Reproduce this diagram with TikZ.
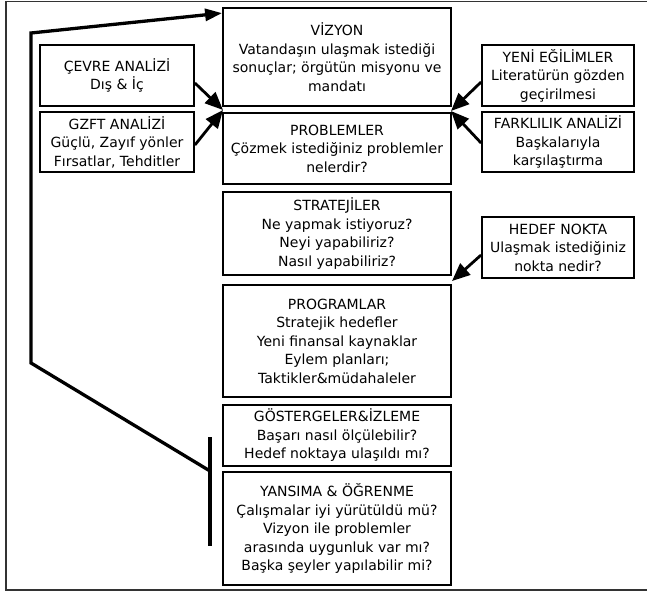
\documentclass[tikz,border=0pt]{standalone}
\usepackage{fontspec}
\setmainfont{DejaVu Sans}
\usetikzlibrary{arrows.meta}
\begin{document}
\begin{tikzpicture}[x=1pt,y=-1pt,
  box/.style={draw=black,line width=1.8pt,rectangle,inner sep=0pt,align=center,font=\fontsize{14}{18.5}\selectfont},
  mainbox/.style={box,minimum width=228pt},
  sidebox/.style={box,minimum width=153pt},
  arr/.style={line width=2.8pt,-{Triangle[length=18pt,width=15pt]}},
  fbline/.style={line width=3.3pt,line join=miter},
  framel/.style={draw=black!80,line width=1.5pt}]
\useasboundingbox (0,0) rectangle (647,594);
\draw[framel] (652,1.5) -- (6,1.5) -- (6,590) -- (652,590);

% main column
\node[mainbox,minimum height=98pt] (viz) at (337,57) {VİZYON\\Vatandaşın ulaşmak istediği\\sonuçlar; örgütün misyonu ve\\mandatı};
\node[mainbox,minimum height=71pt] (prob) at (337,148.5) {PROBLEMLER\\Çözmek istediğiniz problemler\\nelerdir?};
\node[mainbox,minimum height=83pt] (strat) at (337,233.5) {STRATEJİLER\\Ne yapmak istiyoruz?\\Neyi yapabiliriz?\\Nasıl yapabiliriz?};
\node[mainbox,minimum height=112pt] (prog) at (337,341) {PROGRAMLAR\\Stratejik hedefler\\Yeni finansal kaynaklar\\Eylem planları;\\Taktikler\&müdahaleler};
\node[mainbox,minimum height=61pt] (gost) at (337,435.5) {GÖSTERGELER\&İZLEME\\Başarı nasıl ölçülebilir?\\Hedef noktaya ulaşıldı mı?};
\node[mainbox,minimum height=113pt] (yans) at (337,528.5) {YANSIMA \& ÖĞRENME\\Çalışmalar iyi yürütüldü mü?\\Vizyon ile problemler\\arasında uygunluk var mı?\\Başka şeyler yapılabilir mi?};

% left boxes
\node[sidebox,minimum width=154pt,minimum height=61pt] (cevre) at (117,75.5) {ÇEVRE ANALİZİ\\Dış \& İç};
\node[sidebox,minimum width=154pt,minimum height=60pt] (gzft) at (117,142) {GZFT ANALİZİ\\Güçlü, Zayıf yönler\\Fırsatlar, Tehditler};

% right boxes
\node[sidebox,minimum width=152pt,minimum height=61pt] (yeni) at (558,75.5) {YENİ EĞİLİMLER\\Literatürün gözden\\geçirilmesi};
\node[sidebox,minimum width=152pt,minimum height=60pt] (fark) at (558,142) {FARKLILIK ANALİZİ\\Başkalarıyla\\karşılaştırma};
\node[sidebox,minimum width=152pt,minimum height=61pt] (hedef) at (558,247.5) {HEDEF NOKTA\\Ulaşmak istediğiniz\\nokta nedir?};

% junction coordinates
\coordinate (jl) at (223,110);
\coordinate (jr) at (451,111);
\coordinate (jh) at (452,281);

\draw[arr] ([yshift=-7.5pt]cevre.east) -- (jl);
\draw[arr] ([yshift=-3pt]gzft.east) -- (jl);
\draw[arr] ([yshift=-6.5pt]yeni.west) -- (jr);
\draw[arr] ([yshift=-1pt]fark.west) -- (jr);
\draw[arr] ([yshift=-7.5pt]hedef.west) -- (jh);

% feedback loop
\coordinate (barT) at (210,437);
\coordinate (barB) at (210,546);
\coordinate (fbj) at (210,471);
\coordinate (fb1) at (31,363);
\coordinate (fb2) at (31,33);
\coordinate (vtip) at ([yshift=-6pt]viz.north west);
\draw[line width=4.3pt] (barT) -- (barB);
\draw[fbline,-{Triangle[length=17pt,width=12pt]}] (fbj) -- (fb1) -- (fb2) -- (vtip);
\end{tikzpicture}
\end{document}
